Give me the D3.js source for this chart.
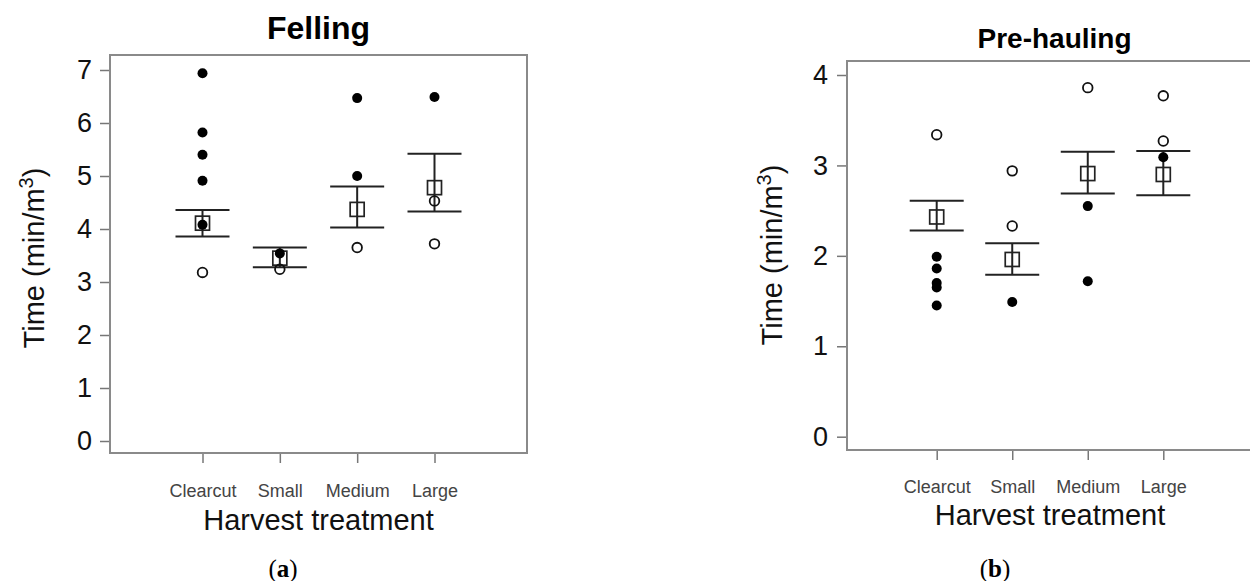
<!DOCTYPE html>
<html>
<head>
<meta charset="utf-8">
<script src="https://cdn.jsdelivr.net/npm/d3@7"></script>
<style>
  body { margin: 0; background: #fff; }
  svg { display: block; font-family: "Liberation Sans", Arial, sans-serif; }
  .frame { fill: none; stroke: #8a8a8a; stroke-width: 2; }
  .axis .domain { display: none; }
  .axis line { stroke: #777; stroke-width: 1.5; }
  .ytick text { font-size: 27px; fill: #111; }
  .xtick text { font-size: 18px; fill: #444; }
  .bar { stroke: #222; stroke-width: 2; fill: none; }
</style>
</head>
<body>
<div class="chart"></div>
<script>
var categories = ["Clearcut", "Small", "Medium", "Large"];

// Felling (min/m3)
var fellingFilled = [[6.94, 5.82, 5.40, 4.91, 4.08], [3.54], [6.47, 5.00], [6.49]];
var fellingOpen = [[3.18], [3.24], [3.65], [4.53, 3.72]];
var fellingMean = [4.11, 3.45, 4.37, 4.78];
var fellingUpper = [4.36, 3.65, 4.80, 5.42];
var fellingLower = [3.86, 3.28, 4.03, 4.33];
var fellingTicks = [0, 1, 2, 3, 4, 5, 6, 7];

// Pre-hauling (min/m3)
var preFilled = [[1.99, 1.86, 1.70, 1.65, 1.45], [1.49], [2.55, 1.72], [3.09]];
var preOpen = [[3.34], [2.94, 2.33], [3.86], [3.77, 3.27]];
var preMean = [2.43, 1.96, 2.91, 2.90];
var preUpper = [2.61, 2.14, 3.15, 3.16];
var preLower = [2.28, 1.79, 2.69, 2.67];
var preTicks = [0, 1, 2, 3, 4];

var svg = d3.select(".chart").append("svg")
    .attr("width", 1250)
    .attr("height", 581);

var panels = [
  {title: "Felling", tag: "a", filled: fellingFilled, open: fellingOpen,
   mean: fellingMean, upper: fellingUpper, lower: fellingLower, ticks: fellingTicks,
   box: {left: 110, right: 527, top: 55, bottom: 453},
   xr: [202.5, 434.5], yr: [441, 70],
   titleY: 39, titleSize: 32, tickLabX: 92, ylabX: 44, ylabY: 258,
   xlabY: 498, harvY: 530, tagX: 283},
  {title: "Pre-hauling", tag: "b", filled: preFilled, open: preOpen,
   mean: preMean, upper: preUpper, lower: preLower, ticks: preTicks,
   box: {left: 847, right: 1262, top: 61, bottom: 450},
   xr: [936.7, 1163.3], yr: [436.7, 75],
   titleY: 48, titleSize: 28, tickLabX: 828, ylabX: 782, ylabY: 255,
   xlabY: 494, harvY: 525, tagX: 995}
];

panels.forEach(function(p) {
  var x = d3.scalePoint().domain(categories).range(p.xr);
  var y = d3.scaleLinear().domain([0, d3.max(p.ticks)]).range([p.yr[0], p.yr[1]]);
  var g = svg.append("g");

  g.append("rect")
    .attr("class", "frame")
    .attr("x", p.box.left)
    .attr("y", p.box.top)
    .attr("width", p.box.right - p.box.left)
    .attr("height", p.box.bottom - p.box.top);

  // y axis, ticks sit just outside the frame
  g.append("g")
    .attr("class", "axis ytick")
    .attr("transform", "translate(" + (p.box.left - 1) + ",0)")
    .call(d3.axisLeft(y).tickValues(p.ticks).tickSize(9).tickPadding(p.box.left - 1 - 9 - p.tickLabX).tickFormat(d3.format("d")));

  // x axis
  g.append("g")
    .attr("class", "axis xtick")
    .attr("transform", "translate(0," + (p.box.bottom + 1) + ")")
    .call(d3.axisBottom(x).tickSize(9).tickPadding(p.xlabY - p.box.bottom - 24));

  g.append("text")
    .attr("x", (p.box.left + p.box.right) / 2)
    .attr("y", p.titleY)
    .attr("text-anchor", "middle")
    .style("font-weight", "bold")
    .style("font-size", p.titleSize + "px")
    .text(p.title);

  var yl = g.append("text")
    .attr("transform", "translate(" + p.ylabX + "," + p.ylabY + ") rotate(-90)")
    .attr("text-anchor", "middle")
    .style("font-size", "29px")
    .style("fill", "#111");
  yl.append("tspan").text("Time (min/m");
  yl.append("tspan").attr("dy", -11).style("font-size", "20px").text("3");
  yl.append("tspan").attr("dy", 11).text(")");

  g.append("text")
    .attr("x", d3.mean(p.xr))
    .attr("y", p.harvY)
    .attr("text-anchor", "middle")
    .style("font-size", "29px")
    .style("fill", "#111")
    .text("Harvest treatment");

  var tg = g.append("text")
    .attr("x", p.tagX)
    .attr("y", 577)
    .attr("text-anchor", "middle")
    .style("font-family", "'Liberation Serif', 'DejaVu Serif', serif")
    .style("font-size", "25px");
  tg.append("tspan").text("(");
  tg.append("tspan").style("font-weight", "bold").text(p.tag);
  tg.append("tspan").text(")");

  // error bars
  categories.forEach(function(c, i) {
    var cx = x(c);
    g.append("line").attr("class", "bar")
      .attr("x1", cx).attr("x2", cx)
      .attr("y1", y(p.upper[i])).attr("y2", y(p.lower[i]));
    [p.upper[i], p.lower[i]].forEach(function(v) {
      g.append("line").attr("class", "bar")
        .attr("x1", cx - 27).attr("x2", cx + 27)
        .attr("y1", y(v)).attr("y2", y(v));
    });
  });

  // mean squares
  g.selectAll(".mean")
    .data(p.mean)
  .enter().append("rect")
    .attr("class", "mean")
    .attr("x", function(d, i) { return x(categories[i]) - 7; })
    .attr("y", function(d) { return y(d) - 7; })
    .attr("width", 14)
    .attr("height", 14)
    .attr("fill", "none")
    .attr("stroke", "#222")
    .attr("stroke-width", 1.7);

  categories.forEach(function(c, i) {
    g.selectAll(".f" + i)
      .data(p.filled[i])
    .enter().append("circle")
      .attr("cx", x(c))
      .attr("cy", function(d) { return y(d); })
      .attr("r", 5)
      .attr("fill", "#000");
    g.selectAll(".o" + i)
      .data(p.open[i])
    .enter().append("circle")
      .attr("cx", x(c))
      .attr("cy", function(d) { return y(d); })
      .attr("r", 4.8)
      .attr("fill", "none")
      .attr("stroke", "#111")
      .attr("stroke-width", 1.8);
  });
});
</script>
</body>
</html>
